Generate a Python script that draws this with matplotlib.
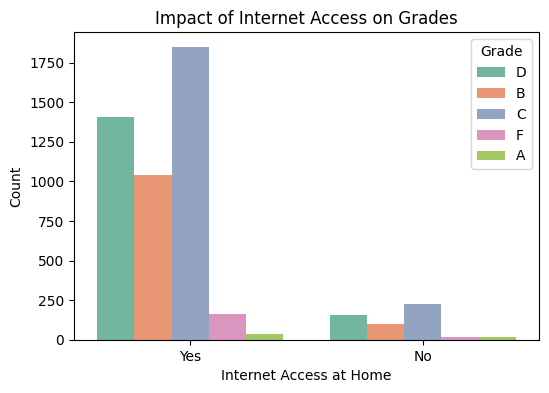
import numpy as np
import pandas as pd
import matplotlib
matplotlib.use("Agg")
import matplotlib.pyplot as plt
import seaborn as sns

access = ['Yes', 'No']
grades = ['D', 'B', 'C', 'F', 'A']
counts_yes = [1409, 1044, 1849, 164, 38]
counts_no = [157, 100, 226, 19, 19]

rows = []
for g, v in zip(grades, counts_yes):
    rows.append(('Yes', g, v))
for g, v in zip(grades, counts_no):
    rows.append(('No', g, v))
df = pd.DataFrame(rows, columns=['Internet', 'Grade', 'Count'])

fig = plt.figure(figsize=(5.49, 3.93), dpi=100)
ax = fig.add_axes([0.1348, 0.1349, 0.847, 0.783])
sns.barplot(data=df, x='Internet', y='Count', hue='Grade', order=access,
            hue_order=grades, palette='Set2', ax=ax)

ax.set_title('Impact of Internet Access on Grades')
ax.set_xlabel('Internet Access at Home')
ax.set_ylabel('Count')
ax.legend(title='Grade', loc='upper right')

fig.savefig('out.png', dpi=100)
